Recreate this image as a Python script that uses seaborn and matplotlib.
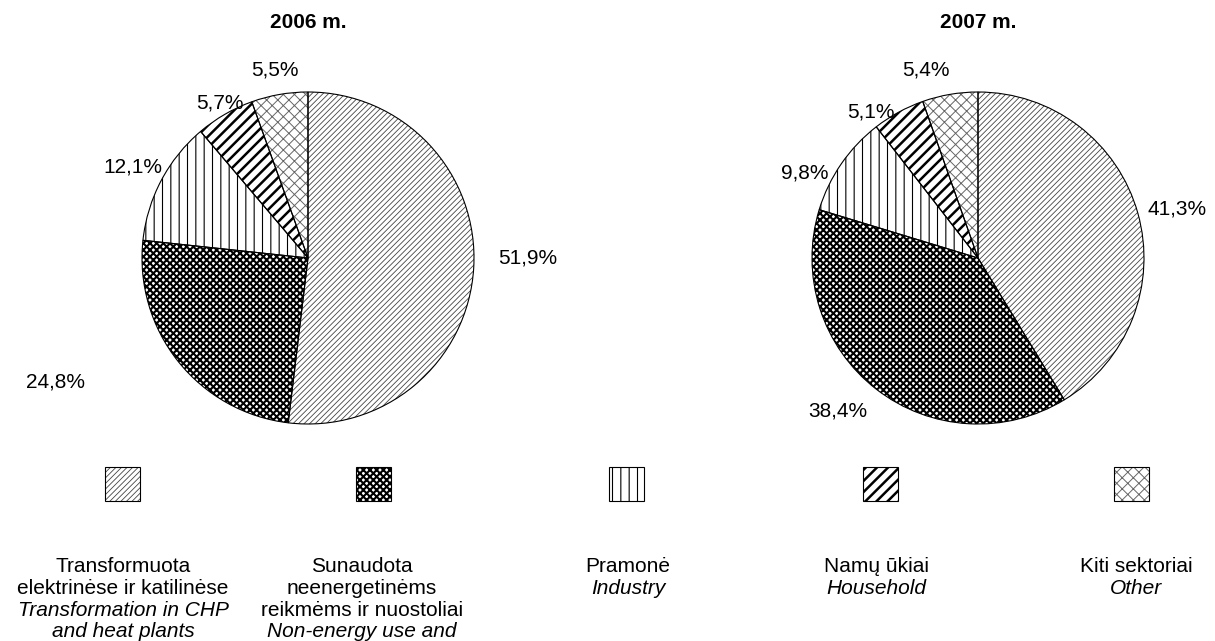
import matplotlib
matplotlib.use('Agg')
import matplotlib.pyplot as plt
import seaborn as sns
from matplotlib.patches import Rectangle

# data
sectors_lt = ['Transformuota\nelektrinėse ir katilinėse',
              'Sunaudota\nneenergetinėms\nreikmėms ir nuostoliai',
              'Pramonė', 'Namų ūkiai', 'Kiti sektoriai']
sectors_en = ['Transformation in CHP\nand heat plants',
              'Non-energy use and',
              'Industry', 'Household', 'Other']
years = ['2006 m.', '2007 m.']
shares_2006 = [51.9, 24.8, 12.1, 5.7, 5.5]
shares_2007 = [41.3, 38.4, 9.8, 5.1, 5.4]

# styles
hatches = ['//////', 'xxxxx', '||', '///', 'xxx']
hatch_colors = ['#444444', 'black', 'black', 'black', '#666666']
hatch_widths = [0.6, 1.5, 0.8, 1.8, 0.7]

# label positions in radius units (relative to pie centre)
label_pos = [
    [(1.325, 0.0), (-1.524, -0.747), (-1.054, 0.548), (-0.53, 0.935), (-0.199, 1.133)],
    [(1.199, 0.295), (-0.843, -0.922), (-1.042, 0.512), (-0.645, 0.88), (-0.313, 1.133)],
]

sns.set_style('white')
plt.rcParams['font.family'] = ['Liberation Sans', 'DejaVu Sans']
plt.rcParams['text.color'] = 'black'

W, H = 1215, 641
fig = plt.figure(figsize=(W / 100, H / 100), dpi=100)

r = 166
centres = [(308, 258), (978, 258)]

for k, (shares, year) in enumerate(zip([shares_2006, shares_2007], years)):
    cx, cy = centres[k]
    ax = fig.add_axes([(cx - r) / W, (H - cy - r) / H, 2 * r / W, 2 * r / H])
    wedges, _ = ax.pie(shares, startangle=90, counterclock=False, radius=1,
                       colors=['white'] * len(shares))
    for w, h, c, lw in zip(wedges, hatches, hatch_colors, hatch_widths):
        w.set_hatch(h)
        w.set_edgecolor(c)
        w.set_linewidth(0)
        if hasattr(w, 'set_hatch_linewidth'):
            w.set_hatch_linewidth(lw)
    # outlines
    outl, _ = ax.pie(shares, startangle=90, counterclock=False, radius=1,
                     wedgeprops=dict(fill=False, edgecolor='black', linewidth=0.8))
    for v, (lx, ly) in zip(shares, label_pos[k]):
        ax.text(lx, ly, f'{v:.1f}%'.replace('.', ','), ha='center', va='center',
                fontsize=15, clip_on=False)
    ax.set_xlim(-1, 1)
    ax.set_ylim(-1, 1)
    ax.axis('off')

# overlay axes in pixel coordinates for titles and legend
ov = fig.add_axes([0, 0, 1, 1], zorder=-1)
ov.set_xlim(0, W)
ov.set_ylim(H, 0)
ov.axis('off')

for (cx, cy), year in zip(centres, years):
    ov.text(cx, 23, year, ha='center', va='center', fontsize=15, fontweight='bold')

box_x = [122, 373, 626, 880, 1131]
text_x = [123, 362, 628, 876, 1136]
box_w, box_h = 35, 34
box_y = 467
line_y0, line_step = 567, 21.5

for i in range(len(sectors_lt)):
    rect = Rectangle((box_x[i] - box_w / 2, box_y), box_w, box_h, facecolor='white',
                     edgecolor=hatch_colors[i], hatch=hatches[i], linewidth=0)
    if hasattr(rect, 'set_hatch_linewidth'):
        rect.set_hatch_linewidth(hatch_widths[i])
    ov.add_patch(rect)
    ov.add_patch(Rectangle((box_x[i] - box_w / 2, box_y), box_w, box_h, fill=False,
                           edgecolor='black', linewidth=0.8))
    lines = [(t, 'normal') for t in sectors_lt[i].split('\n')] + \
            [(t, 'italic') for t in sectors_en[i].split('\n')]
    for j, (t, st) in enumerate(lines):
        ov.text(text_x[i], line_y0 + j * line_step, t, ha='center', va='center',
                fontsize=15, style=st)

plt.savefig('out.png', dpi=100)
plt.close()
